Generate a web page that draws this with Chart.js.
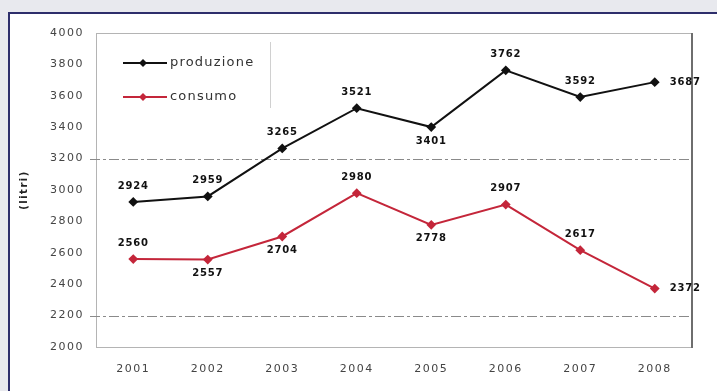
<!DOCTYPE html>
<html>
<head>
<meta charset="utf-8">
<script src="https://cdn.jsdelivr.net/npm/chart.js@4/dist/chart.umd.min.js"></script>
<style>
html,body{margin:0;padding:0;background:#e8e9ee;overflow:hidden;}
#frame{position:absolute;left:8px;top:12px;right:0;bottom:0;background:#fff;border-top:2px solid #2d2e6b;border-left:2px solid #2d2e6b;}
#wrap{position:absolute;left:0;top:0;width:717px;height:391px;}
</style>
</head>
<body>
<div id="frame"></div>
<div id="wrap"><canvas id="myChart" width="717" height="391"></canvas></div>
<script>
const years=["2001","2002","2003","2004","2005","2006","2007","2008"];
const produzione=[2924,2959,3265,3521,3401,3762,3592,3687];
const consumo=[2560,2557,2704,2980,2778,2907,2617,2372];
const refLines=[3200,2200];
// where each value label sits: a=above, b=below, r=right
const posProd=["a","a","a","a","b","a","a","r"];
const posCons=["a","b","b","a","b","a","a","r"];

const extras={
  id:'extras',
  beforeUpdate(chart){ chart.ctx.letterSpacing='1.5px'; },
  beforeDraw(chart){ chart.ctx.letterSpacing='1.5px'; },
  beforeDatasetsDraw(chart){
    const ctx=chart.ctx, a=chart.chartArea, y=chart.scales.y;
    ctx.save();
    // plot border
    ctx.strokeStyle='#b4b4b4';
    ctx.lineWidth=1;
    ctx.strokeRect(a.left+0.5,a.top+0.5,a.right-a.left-1,a.bottom-a.top);
    ctx.strokeStyle='#6e6e6e';
    ctx.lineWidth=2;
    ctx.beginPath();
    ctx.moveTo(a.right,a.top);ctx.lineTo(a.right,a.bottom+1);
    ctx.stroke();
    // dash-dot reference lines
    ctx.strokeStyle='#8a8a8a';
    ctx.lineWidth=1;
    ctx.setLineDash([10,3,3,3]);
    refLines.forEach(v=>{
      const py=Math.round(y.getPixelForValue(v))+0.5;
      ctx.beginPath();ctx.moveTo(a.left-6,py);ctx.lineTo(a.right-2,py);ctx.stroke();
    });
    ctx.setLineDash([]);
    // legend
    ctx.strokeStyle='#d0d0d0';
    ctx.beginPath();ctx.moveTo(270.5,42);ctx.lineTo(270.5,108);ctx.stroke();
    const ly=[63,97];
    chart.data.datasets.forEach((ds,i)=>{
      ctx.strokeStyle=ds.borderColor;
      ctx.fillStyle=ds.borderColor;
      ctx.lineWidth=2;
      ctx.beginPath();ctx.moveTo(123,ly[i]);ctx.lineTo(167,ly[i]);ctx.stroke();
      ctx.beginPath();
      ctx.moveTo(143,ly[i]-4);ctx.lineTo(147,ly[i]);ctx.lineTo(143,ly[i]+4);ctx.lineTo(139,ly[i]);
      ctx.closePath();ctx.fill();
      ctx.letterSpacing='1.2px';
      ctx.fillStyle='#333';
      ctx.font='13px "DejaVu Sans"';
      ctx.textAlign='left';ctx.textBaseline='middle';
      ctx.fillText(ds.label,170,ly[i]);
    });
    ctx.restore();
  },
  afterDatasetsDraw(chart){
    const ctx=chart.ctx;
    ctx.save();
    ctx.letterSpacing='0.8px';
    ctx.font='bold 10px "DejaVu Sans"';
    ctx.fillStyle='#111';
    ctx.textBaseline='middle';
    const pos=[posProd,posCons];
    chart.data.datasets.forEach((ds,i)=>{
      chart.getDatasetMeta(i).data.forEach((pt,j)=>{
        const p=pos[i][j];
        let x=pt.x, yy=pt.y;
        ctx.textAlign='center';
        if(p==='a') yy-=16;
        else if(p==='b') yy+=14;
        else { x+=15; ctx.textAlign='left'; }
        ctx.fillText(String(ds.data[j]),x,yy);
      });
    });
    ctx.restore();
  }
};

const ctx=document.getElementById('myChart').getContext('2d');
const myChart=new Chart(ctx,{
  type:'line',
  data:{
    labels:years,
    datasets:[
      {label:'produzione',data:produzione,borderColor:'#111111',backgroundColor:'#111111',borderWidth:2,
       pointStyle:'rectRot',pointRadius:3.5,pointBackgroundColor:'#111111',tension:0},
      {label:'consumo',data:consumo,borderColor:'#c4263a',backgroundColor:'#c4263a',borderWidth:2,
       pointStyle:'rectRot',pointRadius:3.5,pointBackgroundColor:'#c4263a',tension:0}
    ]
  },
  options:{
    responsive:false,
    animation:false,
    layout:{padding:{left:18,top:33,right:25,bottom:0}},
    plugins:{legend:{display:false},tooltip:{enabled:false}},
    scales:{
      x:{
        offset:true,
        grid:{display:false,drawTicks:false},
        border:{display:false},
        ticks:{color:'#444',font:{family:'"DejaVu Sans"',size:11},padding:16,maxRotation:0},
        afterFit(s){s.height=44;}
      },
      y:{
        min:2000,max:4000,
        grid:{display:false,drawTicks:false},
        border:{display:false},
        ticks:{stepSize:200,color:'#444',font:{family:'"DejaVu Sans"',size:11},padding:12,
               callback:(v)=>String(v)},
        title:{display:true,text:'(litri)',color:'#222',font:{family:'"DejaVu Sans"',size:10,weight:'bold'},padding:{top:0,bottom:0}},
        afterFit(s){s.width=78;}
      }
    }
  },
  plugins:[extras]
});
</script>
</body>
</html>
